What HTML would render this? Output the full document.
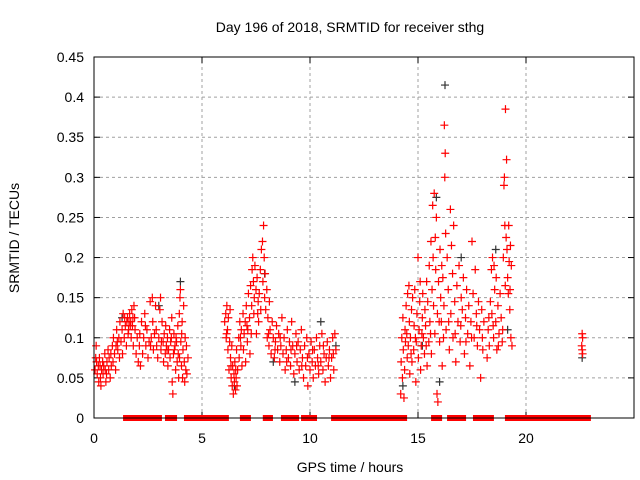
<!DOCTYPE html>
<html><head><meta charset="utf-8"><style>
body{margin:0;background:#fff}
svg{display:block;font-family:"Liberation Sans",sans-serif}
</style></head><body>
<svg id="chart" width="640" height="480">
<text x="350" y="32" text-anchor="middle" font-size="14">Day 196 of 2018, SRMTID for receiver sthg</text>
<text x="350" y="472" text-anchor="middle" font-size="14">GPS time / hours</text>
<text transform="translate(19,238) rotate(-90)" text-anchor="middle" font-size="14">SRMTID / TECUs</text>
<g id="grid"></g>
<g id="ticks"></g>
<g id="zeros"></g>
<g id="black"></g>
<g id="red"></g>
<rect x="94" y="57" width="540" height="361" fill="none" stroke="#000" stroke-width="1"/>
</svg>
<script>
const xTicks=[0,5,10,15,20];
const yTicks=[0,0.05,0.1,0.15,0.2,0.25,0.3,0.35,0.4,0.45];
const yTickLabels=["0","0.05","0.1","0.15","0.2","0.25","0.3","0.35","0.4","0.45"];
const zeroRanges=[[1.53,1.71],[2.04,2.13],[2.2,2.27],[2.36,2.96],[3.47,3.66],[4.35,6.06],[6.94,6.98],[7.04,7.08],[8.0,8.1],[8.84,9.03],[9.12,9.31],[9.77,10.14],[11.16,14.31],[15.79,15.82],[15.88,15.93],[16.53,16.62],[16.85,17.04],[17.73,18.33],[19.21,20.6],[20.65,21.39],[21.48,22.55],[22.59,22.82]];
const blackSeries=[[16.25,0.415],[15.85,0.275],[4.0,0.17],[22.6,0.075],[14.3,0.04],[9.3,0.045],[18.6,0.21],[6.5,0.04],[16.0,0.045],[19.15,0.11],[10.5,0.12],[7.9,0.18],[1.3,0.125],[3.0,0.14],[17.0,0.2],[15.2,0.09],[8.3,0.07],[11.2,0.09]];
const redSeries=[[0.05,0.06],[0.1,0.09],[0.12,0.07],[0.15,0.055],[0.2,0.065],[0.22,0.045],[0.25,0.075],[0.3,0.05],[0.32,0.04],[0.35,0.06],[0.4,0.07],[0.42,0.055],[0.45,0.065],[0.5,0.08],[0.52,0.06],[0.55,0.045],[0.6,0.07],[0.65,0.085],[0.68,0.06],[0.7,0.075],[0.75,0.05],[0.8,0.065],[0.85,0.09],[0.88,0.07],[0.9,0.1],[0.95,0.08],[1.0,0.06],[1.02,0.09],[1.05,0.11],[1.1,0.085],[1.15,0.1],[1.18,0.075],[1.2,0.12],[1.25,0.095],[1.3,0.11],[1.32,0.08],[1.35,0.13],[1.4,0.1],[1.45,0.115],[1.5,0.09],[1.52,0.12],[1.55,0.125],[1.6,0.11],[1.62,0.12],[1.65,0.13],[1.68,0.115],[1.7,0.12],[1.72,0.1],[1.75,0.135],[1.8,0.125],[1.82,0.09],[1.85,0.14],[1.9,0.11],[1.95,0.08],[2.0,0.1],[2.05,0.07],[2.1,0.09],[2.15,0.065],[2.2,0.12],[2.25,0.08],[2.3,0.1],[2.35,0.13],[2.4,0.09],[2.45,0.11],[2.5,0.075],[2.55,0.095],[2.6,0.145],[2.65,0.1],[2.7,0.15],[2.72,0.12],[2.75,0.085],[2.8,0.105],[2.85,0.14],[2.9,0.09],[2.95,0.075],[3.0,0.1],[3.05,0.135],[3.08,0.15],[3.1,0.085],[3.15,0.12],[3.2,0.095],[3.22,0.07],[3.25,0.105],[3.3,0.08],[3.32,0.115],[3.35,0.09],[3.4,0.1],[3.42,0.065],[3.45,0.085],[3.5,0.11],[3.52,0.075],[3.55,0.095],[3.6,0.125],[3.62,0.045],[3.65,0.03],[3.68,0.08],[3.7,0.105],[3.75,0.09],[3.78,0.06],[3.8,0.1],[3.85,0.07],[3.88,0.115],[3.9,0.08],[3.92,0.05],[3.95,0.13],[3.98,0.15],[4.0,0.16],[4.02,0.095],[4.05,0.065],[4.08,0.12],[4.1,0.05],[4.12,0.085],[4.15,0.14],[4.18,0.07],[4.2,0.045],[4.22,0.1],[4.25,0.06],[4.3,0.055],[4.35,0.075],
[0.08,0.075],[0.28,0.065],[0.58,0.055],[0.78,0.08],[1.08,0.095],[1.42,0.125],[1.58,0.105],[1.78,0.115],[1.88,0.125],[2.12,0.105],[2.38,0.115],[2.62,0.09],[2.88,0.11],[3.12,0.095],[3.38,0.085],[3.58,0.1],[3.72,0.085],[3.82,0.095],[3.96,0.075],[4.06,0.105],[4.28,0.09],
[6.05,0.12],[6.1,0.13],[6.12,0.1],[6.15,0.14],[6.18,0.11],[6.2,0.085],[6.22,0.125],[6.25,0.06],[6.28,0.095],[6.3,0.135],[6.32,0.075],[6.35,0.05],[6.38,0.09],[6.4,0.04],[6.42,0.065],[6.45,0.03],[6.48,0.055],[6.5,0.045],[6.52,0.07],[6.55,0.035],[6.58,0.05],[6.6,0.085],[6.62,0.04],[6.65,0.06],[6.7,0.1],[6.72,0.075],[6.75,0.12],[6.8,0.09],[6.82,0.11],[6.85,0.065],[6.9,0.13],[6.92,0.085],[6.95,0.105],[7.0,0.12],[7.02,0.07],[7.05,0.14],[7.1,0.095],[7.12,0.11],[7.15,0.155],[7.2,0.125],[7.22,0.08],[7.25,0.165],[7.3,0.14],[7.32,0.185],[7.35,0.2],[7.38,0.17],[7.4,0.13],[7.42,0.15],[7.45,0.19],[7.5,0.16],[7.52,0.105],[7.55,0.175],[7.6,0.145],[7.62,0.12],[7.65,0.155],[7.7,0.185],[7.72,0.135],[7.75,0.21],[7.8,0.22],[7.82,0.17],[7.85,0.24],[7.88,0.2],[7.9,0.15],[7.92,0.18],[7.95,0.135],[8.0,0.16],[8.02,0.1],[8.05,0.125],[8.1,0.09],[8.12,0.145],[8.15,0.11],[8.2,0.08],[8.25,0.12],[8.3,0.1],[8.35,0.075],[8.4,0.095],[8.45,0.115],[8.5,0.085],[8.55,0.105],[8.6,0.07],[8.65,0.09],[8.7,0.125],[8.75,0.08],[8.8,0.1],[8.85,0.06],[8.9,0.085],[8.95,0.11],[9.0,0.075],[9.05,0.095],[9.1,0.065],[9.15,0.12],[9.2,0.09],[9.25,0.055],[9.3,0.08],[9.35,0.105],[9.4,0.07],[9.45,0.095],[9.5,0.06],[9.55,0.085],[9.6,0.11],[9.65,0.075],[9.7,0.05],[9.75,0.09],[9.8,0.065],[9.85,0.1],[9.9,0.04],[9.95,0.08],[10.0,0.06],[10.05,0.095],[10.1,0.07],[10.15,0.05],[10.2,0.085],[10.25,0.065],[10.3,0.1],[10.35,0.075],[10.4,0.055],[10.45,0.09],[10.5,0.07],[10.55,0.105],[10.6,0.06],[10.65,0.08],[10.7,0.045],[10.75,0.075],[10.8,0.095],[10.85,0.065],[10.9,0.085],[10.95,0.05],[11.0,0.075],[11.05,0.1],[11.1,0.06],[11.15,0.105],[11.2,0.085],
[6.14,0.105],[6.34,0.065],[6.56,0.06],[6.78,0.1],[7.08,0.115],[7.28,0.105],[7.58,0.13],[8.08,0.105],[8.38,0.085],[8.62,0.1],[8.92,0.07],[9.12,0.085],[9.38,0.09],[9.62,0.065],[9.88,0.075],[10.12,0.085],[10.38,0.065],[10.62,0.09],[10.88,0.075],[11.08,0.08],
[14.2,0.03],[14.22,0.07],[14.25,0.1],[14.28,0.05],[14.3,0.125],[14.32,0.085],[14.35,0.025],[14.38,0.06],[14.4,0.11],[14.42,0.095],[14.45,0.14],[14.5,0.075],[14.52,0.155],[14.55,0.09],[14.58,0.165],[14.6,0.12],[14.62,0.055],[14.65,0.1],[14.7,0.135],[14.72,0.07],[14.75,0.15],[14.8,0.085],[14.82,0.115],[14.85,0.16],[14.9,0.045],[14.92,0.095],[14.95,0.13],[15.0,0.2],[15.02,0.075],[15.05,0.11],[15.08,0.145],[15.1,0.17],[15.12,0.06],[15.15,0.09],[15.2,0.125],[15.22,0.155],[15.25,0.1],[15.3,0.08],[15.32,0.135],[15.35,0.115],[15.4,0.17],[15.42,0.065],[15.45,0.145],[15.5,0.095],[15.52,0.19],[15.55,0.12],[15.6,0.22],[15.62,0.08],[15.65,0.16],[15.68,0.265],[15.7,0.2],[15.72,0.14],[15.75,0.28],[15.78,0.105],[15.8,0.225],[15.82,0.185],[15.85,0.25],[15.88,0.03],[15.9,0.13],[15.92,0.02],[15.95,0.17],[16.0,0.095],[16.02,0.21],[16.05,0.15],[16.08,0.12],[16.1,0.19],[16.12,0.065],[16.15,0.175],[16.2,0.14],[16.22,0.365],[16.24,0.3],[16.26,0.33],[16.28,0.23],[16.3,0.11],[16.35,0.2],[16.4,0.16],[16.45,0.085],[16.5,0.26],[16.52,0.13],[16.55,0.215],[16.6,0.18],[16.62,0.1],[16.65,0.24],[16.7,0.145],[16.75,0.07],[16.8,0.165],[16.85,0.12],[16.9,0.19],[16.95,0.095],[17.0,0.15],[17.05,0.135],[17.1,0.175],[17.15,0.08],[17.2,0.125],[17.25,0.16],[17.3,0.105],[17.35,0.14],[17.4,0.065],[17.45,0.12],[17.5,0.22],[17.55,0.155],[17.6,0.1],[17.65,0.185],[17.7,0.13],[17.75,0.09],[17.8,0.145],[17.85,0.11],[17.9,0.05],[17.95,0.135],[18.0,0.085],[18.05,0.12],[18.2,0.075],[18.25,0.11],[18.3,0.09],[18.35,0.145],[18.4,0.185],[18.42,0.13],[18.45,0.2],[18.5,0.1],[18.52,0.19],[18.55,0.16],[18.6,0.12],[18.62,0.175],[18.65,0.085],[18.7,0.14],[18.75,0.105],[18.8,0.155],[18.85,0.125],[18.9,0.095],[18.95,0.2],[18.98,0.29],[19.0,0.3],[19.02,0.24],[19.05,0.385],[19.08,0.225],[19.1,0.322],[19.12,0.21],[19.15,0.175],[19.18,0.155],[19.2,0.24],[19.22,0.195],[19.25,0.135],[19.28,0.215],[19.3,0.1],[19.32,0.19],[19.35,0.09],
[14.48,0.105],[14.68,0.08],[14.88,0.1],[15.18,0.105],[15.38,0.09],[15.58,0.105],[15.98,0.12],[16.18,0.1],[16.42,0.12],[16.72,0.105],[16.98,0.115],[17.22,0.095],[17.48,0.1],[17.72,0.115],[17.98,0.1],[18.28,0.125],[18.48,0.115],[18.72,0.09],[18.92,0.11],[19.04,0.165],[19.26,0.16],
[22.6,0.105],[22.62,0.1],[22.58,0.09],[22.6,0.085],[22.62,0.08]];

const NS="http://www.w3.org/2000/svg";
const X0=94,X1=634,Y0=418,Y1=57,XMAX=25,YMAX=0.45;
function xs(h){return X0+h/XMAX*(X1-X0);}
function ys(v){return Y0-v/YMAX*(Y0-Y1);}
function mk(tag,attrs,parent){const e=document.createElementNS(NS,tag);for(const k in attrs)e.setAttribute(k,attrs[k]);parent.appendChild(e);return e;}
const grid=document.getElementById('grid'),ticks=document.getElementById('ticks');
xTicks.forEach(t=>{
  const x=xs(t);
  if(t>0){const g=mk('line',{x1:x,y1:Y0,x2:x,y2:Y1,stroke:'#a0a0a0','stroke-dasharray':'3,3'},grid);
  
  }
  mk('line',{x1:x,y1:Y0,x2:x,y2:Y0-6,stroke:'#000'},ticks);
  mk('line',{x1:x,y1:Y1,x2:x,y2:Y1+6,stroke:'#000'},ticks);
  const l=mk('text',{x:x,y:Y0+25,'text-anchor':'middle','font-size':'14'},ticks);
  l.textContent=String(t);
  
  
});
yTicks.forEach((t,i)=>{
  const y=ys(t);
  if(t>0&&t<YMAX){const g=mk('line',{x1:X0,y1:y,x2:X1,y2:y,stroke:'#a0a0a0','stroke-dasharray':'3,3'},grid);
  
  }
  mk('line',{x1:X0,y1:y,x2:X0+6,y2:y,stroke:'#000'},ticks);
  mk('line',{x1:X1,y1:y,x2:X1-6,y2:y,stroke:'#000'},ticks);
  const l=mk('text',{x:X0-10,y:y+5,'text-anchor':'end','font-size':'14'},ticks);
  l.textContent=yTickLabels[i];
  
  
});
const zg=document.getElementById('zeros');
zeroRanges.forEach(r=>{
  const a=xs(r[0])-4,b=xs(r[1])+4;
  const e=mk('rect',{x:a,y:ys(0)-3,width:b-a,height:6,fill:'#ff0000'},zg);
  
  
});
function plus(g,p,color,name){
  const x=xs(p[0]),y=ys(p[1]);
  const e=mk('path',{d:`M${x-4},${y}H${x+4}M${x},${y-4}V${y+4}`,stroke:color,'stroke-width':'1.2',fill:'none'},g);
  
  
}
blackSeries.forEach(p=>plus(document.getElementById('black'),p,'#333','black-point'));
redSeries.forEach(p=>plus(document.getElementById('red'),p,'#ff0000','red-point'));
</script>
</body></html>
